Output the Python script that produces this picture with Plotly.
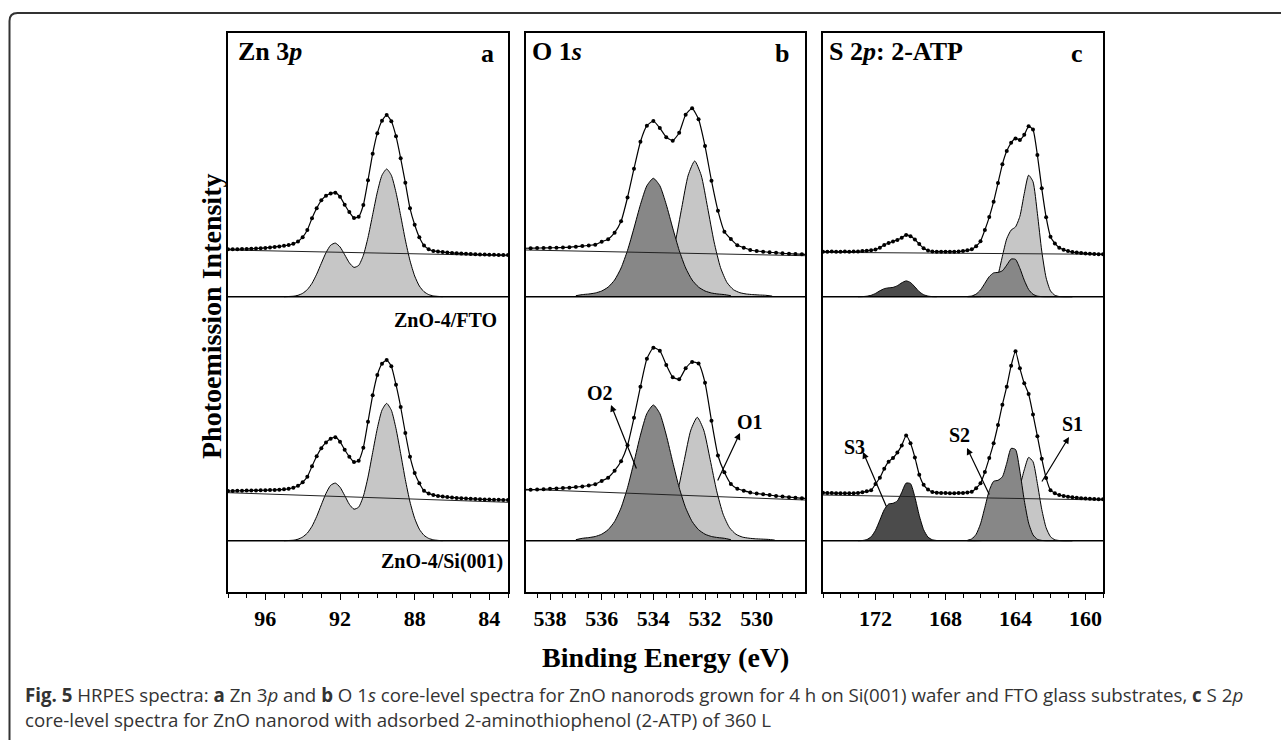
import plotly.graph_objects as go

W, H = 1281, 740

# ---------------- data (intensities relative to each spectrum's fit baseline) ----------------
# Panel a : Zn 3p
A_E = [98.0, 97.75, 97.5, 97.25, 97.0, 96.75, 96.5, 96.25, 96.0, 95.75, 95.5, 95.25, 95.0, 94.75, 94.5,
       94.25, 94.0, 93.75, 93.5, 93.25, 93.0, 92.75, 92.5, 92.25, 92.0, 91.75, 91.5, 91.25, 91.0, 90.75,
       90.5, 90.25, 90.0, 89.75, 89.5, 89.25, 89.0, 88.75, 88.5, 88.25, 88.0, 87.75, 87.5, 87.25, 87.0,
       86.75, 86.5, 86.25, 86.0, 85.75, 85.5, 85.25, 85.0, 84.75, 84.5, 84.25, 84.0, 83.75, 83.5, 83.25, 83.0]
A_FTO_EXP = [47.4, 47.5, 47.4, 47.6, 47.8, 47.9, 48.2, 48.4, 48.8, 49.2, 49.8, 50.3, 51.0, 51.7, 53.0,
             55.3, 59.5, 66.7, 78.4, 88.4, 96.4, 101.0, 103.2, 104.0, 100.0, 92.0, 84.6, 78.7, 80.0, 91.7,
             116.4, 143.0, 163.5, 176.0, 181.7, 175.5, 160.5, 138.4, 114.0, 88.4, 72.0, 59.5, 51.3, 47.5, 45.8,
             45.2, 44.6, 44.2, 43.8, 43.4, 43.2, 42.9, 42.6, 42.4, 42.3, 42.1, 42.0, 41.9, 41.8, 41.7, 41.7]
A_SI_EXP = [49.7, 49.8, 49.9, 50.0, 50.1, 50.2, 50.3, 50.4, 50.5, 50.6, 50.8, 51.0, 51.4, 51.9, 53.0,
            54.9, 58.5, 63.9, 74.4, 84.4, 92.5, 98.3, 102.0, 103.5, 99.0, 91.0, 84.0, 78.6, 80.0, 93.0,
            119.0, 145.4, 165.7, 177.0, 180.7, 174.5, 156.0, 133.7, 107.7, 84.0, 67.7, 57.5, 50.0, 47.3, 45.8,
            44.8, 44.1, 43.6, 43.2, 42.8, 42.5, 42.2, 41.9, 41.7, 41.5, 41.3, 41.1, 41.0, 40.9, 40.8, 40.7]
A_FIT_E = [95.0, 94.75, 94.5, 94.25, 94.0, 93.75, 93.5, 93.25, 93.0, 92.75, 92.5, 92.25, 92.0, 91.75, 91.5,
           91.25, 91.0, 90.75, 90.5, 90.25, 90.0, 89.75, 89.5, 89.25, 89.0, 88.75, 88.5, 88.25, 88.0, 87.75,
           87.5, 87.25, 87.0, 86.75, 86.5]
A_FTO_FIT = [0.0, 0.2, 0.5, 1.4, 3.4, 7.1, 13.4, 22.5, 33.4, 44.0, 51.5, 53.6, 49.8, 42.0, 33.9,
             29.3, 31.3, 41.3, 59.2, 82.0, 104.6, 121.5, 127.7, 121.4, 104.3, 81.0, 56.8, 36.0, 20.7, 10.7,
             5.0, 2.1, 0.8, 0.3, 0.0]
A_SI_FIT = [0.0, 0.2, 0.5, 1.5, 3.7, 7.6, 14.4, 24.2, 35.9, 47.3, 55.4, 57.6, 53.5, 45.2, 36.4,
            31.5, 33.6, 44.4, 63.6, 88.2, 112.4, 130.6, 137.3, 130.5, 112.1, 87.1, 61.1, 38.7, 22.3, 11.5,
            5.4, 2.3, 0.9, 0.3, 0.0]
A_FTO_BG = [46.7, 41.0]
A_SI_BG = [48.0, 38.4]

# Panel b : O 1s
B_E = [539.0, 538.75, 538.5, 538.25, 538.0, 537.75, 537.5, 537.25, 537.0, 536.75, 536.5, 536.25, 536.0,
       535.75, 535.5, 535.25, 535.0, 534.75, 534.5, 534.25, 534.0, 533.75, 533.5, 533.25, 533.0, 532.75,
       532.5, 532.25, 532.0, 531.75, 531.5, 531.25, 531.0, 530.75, 530.5, 530.25, 530.0, 529.75, 529.5,
       529.25, 529.0, 528.75, 528.5, 528.25, 528.0]
B_FTO_EXP = [48.4, 48.5, 48.6, 48.8, 48.9, 49.0, 49.2, 49.5, 50.0, 50.6, 51.3, 52.0, 55.0,
             57.5, 64.0, 75.4, 99.2, 128.0, 155.0, 171.0, 175.7, 168.7, 159.5, 156.0, 164.0, 182.0,
             188.4, 177.4, 150.6, 116.0, 86.0, 65.0, 57.7, 51.4, 49.0, 46.7, 45.7, 45.0, 44.4,
             44.0, 43.4, 43.0, 42.7, 42.5, 42.3]
B_SI_EXP = [50.7, 50.9, 51.1, 51.4, 51.9, 52.3, 52.6, 53.0, 53.6, 54.3, 55.2, 56.5, 59.8,
            63.0, 70.0, 79.5, 95.4, 123.0, 154.0, 182.0, 193.0, 190.0, 175.7, 163.5, 161.5, 172.4,
            178.7, 177.2, 158.0, 120.0, 85.2, 68.4, 56.8, 51.9, 50.0, 48.2, 47.2, 46.4, 45.6,
            44.8, 44.1, 43.5, 43.0, 42.5, 42.3]
B_O2_E = [537.0, 536.75, 536.5, 536.25, 536.0, 535.75, 535.5, 535.25, 535.0, 534.75, 534.5, 534.25, 534.0,
          533.75, 533.5, 533.25, 533.0, 532.75, 532.5, 532.25, 532.0, 531.75, 531.5, 531.25, 531.0]
B_FTO_O2 = [1.0, 2.1, 2.7, 3.7, 5.7, 9.6, 16.7, 28.7, 46.3, 68.6, 92.1, 111.0, 118.4,
            111.0, 92.1, 68.6, 46.3, 28.7, 16.7, 9.6, 5.7, 3.7, 2.7, 2.1, 1.0]
B_SI_O2 = [1.0, 2.4, 3.1, 4.2, 6.5, 11.0, 19.2, 32.9, 53.0, 78.6, 105.6, 127.2, 135.7,
           127.2, 105.6, 78.6, 53.0, 32.9, 19.2, 11.0, 6.5, 4.2, 3.1, 2.4, 1.0]
B_FTO_O1_E = [535.4, 535.15, 534.9, 534.65, 534.4, 534.15, 533.9, 533.65, 533.4, 533.15, 532.9, 532.65, 532.4,
              532.15, 531.9, 531.65, 531.4, 531.15, 530.9, 530.65, 530.4, 530.15, 529.9, 529.65, 529.4]
B_FTO_O1 = [0.6, 1.4, 1.7, 2.1, 2.7, 4.0, 7.0, 14.2, 29.1, 54.8, 89.1, 121.6, 135.7,
            121.6, 89.1, 54.8, 29.1, 14.2, 7.0, 4.0, 2.7, 2.1, 1.7, 1.4, 0.6]
B_SI_O1_E = [535.3, 535.05, 534.8, 534.55, 534.3, 534.05, 533.8, 533.55, 533.3, 533.05, 532.8, 532.55, 532.3,
             532.05, 531.8, 531.55, 531.3, 531.05, 530.8, 530.55, 530.3, 530.05, 529.8, 529.55, 529.3]
B_SI_O1 = [0.6, 1.3, 1.6, 1.9, 2.5, 3.6, 6.4, 12.9, 26.5, 49.9, 81.0, 110.6, 123.4,
           110.6, 81.0, 49.9, 26.5, 12.9, 6.4, 3.6, 2.5, 1.9, 1.6, 1.3, 0.6]
B_FTO_BG = [46.7, 41.0]
B_SI_BG = [51.4, 40.7]

# Panel c : S 2p (2-ATP)
C_E = [175.0, 174.75, 174.5, 174.25, 174.0, 173.75, 173.5, 173.25, 173.0, 172.75, 172.5, 172.25, 172.0,
       171.75, 171.5, 171.25, 171.0, 170.75, 170.5, 170.25, 170.0, 169.75, 169.5, 169.25, 169.0, 168.75,
       168.5, 168.25, 168.0, 167.75, 167.5, 167.25, 167.0, 166.75, 166.5, 166.25, 166.0, 165.75, 165.5,
       165.25, 165.0, 164.75, 164.5, 164.25, 164.0, 163.75, 163.5, 163.25, 163.0, 162.75, 162.5, 162.25,
       162.0, 161.75, 161.5, 161.25, 161.0, 160.75, 160.5, 160.25, 160.0, 159.75, 159.5, 159.25, 159.0]
C_FTO_EXP = [45.0, 45.0, 45.1, 44.9, 45.0, 45.2, 45.0, 45.1, 45.3, 45.6, 46.0, 46.4, 47.2,
             49.0, 51.8, 53.6, 55.3, 56.8, 59.0, 61.8, 60.4, 57.2, 52.6, 48.4, 46.2, 45.2,
             45.0, 45.0, 45.0, 45.0, 45.0, 45.2, 45.6, 46.4, 47.5, 50.5, 55.5, 66.7, 79.6,
             95.0, 113.6, 132.4, 145.6, 153.9, 158.3, 156.8, 161.9, 170.4, 167.1, 141.7, 108.4, 79.5,
             60.0, 53.3, 49.0, 47.0, 45.6, 44.6, 44.1, 43.7, 43.3, 43.0, 42.7, 42.5, 42.4]
C_SI_EXP = [48.0, 47.8, 47.6, 47.5, 47.5, 47.4, 47.4, 47.4, 47.8, 48.5, 49.5, 50.4, 56.7,
            62.9, 72.0, 79.0, 82.7, 88.1, 95.3, 105.2, 97.4, 83.3, 66.0, 55.9, 51.3, 48.7,
            48.0, 47.8, 47.6, 47.4, 47.4, 47.6, 47.8, 48.2, 48.9, 52.5, 57.4, 68.7, 82.6,
            97.4, 115.7, 136.0, 154.0, 175.0, 189.5, 172.4, 157.4, 146.7, 126.3, 104.5, 82.0, 62.6,
            50.5, 47.5, 45.7, 44.8, 44.0, 43.4, 42.9, 42.5, 42.1, 41.9, 41.6, 41.5, 41.4]
C_S12_E = [166.75, 166.5, 166.25, 166.0, 165.75, 165.5, 165.25, 165.0, 164.75, 164.5, 164.25, 164.0, 163.75,
           163.5, 163.25, 163.0, 162.75, 162.5, 162.25, 162.0, 161.75, 161.5, 161.25, 161.0, 160.75]
C_FTO_S1 = [0.0, 0.0, 0.0, 0.1, 0.6, 2.6, 8.6, 21.5, 40.4, 58.0, 66.6, 69.8, 80.4,
            103.1, 121.5, 115.0, 83.4, 45.6, 18.8, 5.8, 1.4, 0.2, 0.0, 0.0, 0.0]
C_FTO_S2 = [0.2, 0.7, 2.6, 6.7, 13.4, 20.1, 23.8, 24.3, 25.9, 31.6, 37.6, 37.3, 28.4,
            16.5, 7.2, 2.4, 0.6, 0.1, 0.0, 0.0, 0.0, 0.0, 0.0, 0.0, 0.0]
C_SI_S1 = [0.0, 0.0, 0.0, 0.1, 0.4, 1.8, 5.9, 14.7, 27.6, 39.7, 45.6, 47.8, 55.1,
           70.8, 83.3, 79.0, 57.2, 31.3, 12.9, 4.0, 0.9, 0.2, 0.0, 0.0, 0.0]
C_SI_S2 = [0.4, 1.8, 6.4, 16.8, 33.4, 50.2, 59.4, 60.4, 63.9, 77.5, 92.3, 91.2, 69.5,
           40.4, 17.6, 5.8, 1.4, 0.3, 0.0, 0.0, 0.0, 0.0, 0.0, 0.0, 0.0]
C_S3_E = [173.0, 172.75, 172.5, 172.25, 172.0, 171.75, 171.5, 171.25, 171.0, 170.75, 170.5, 170.25, 170.0,
          169.75, 169.5, 169.25, 169.0, 168.75, 168.5]
C_FTO_S3 = [0.0, 0.1, 0.5, 1.4, 3.3, 5.9, 8.0, 8.9, 9.3, 11.0, 13.9, 15.8, 14.2,
            9.8, 5.0, 2.0, 0.6, 0.1, 0.0]
C_SI_S3 = [0.0, 0.2, 1.1, 3.9, 10.4, 20.6, 31.0, 36.7, 37.4, 39.8, 48.4, 57.6, 57.0,
           43.6, 25.2, 11.0, 3.6, 0.9, 0.2]
C_FTO_BG = [44.4, 42.4]
C_SI_BG = [45.7, 40.7]

# ---------------- layout constants ----------------
def px(x):
    return x / W


def py(y):
    return 1 - y / H


TOP_PX, BOT_PX = 33, 592
Y_SPAN = BOT_PX - TOP_PX
OFF_FTO = BOT_PX - 296.7   # upper spectrum (ZnO-4/FTO)
OFF_SI = BOT_PX - 540.7    # lower spectrum (ZnO-4/Si(001))

LIGHT = "#c6c6c6"
MID = "#878787"
DARK = "#4b4b4b"
SERIF = "Liberation Serif"

PANELS = [
    dict(xa="x", ya="y", dom=(228, 508), rng=[98.0, 83.0], tick0=84, dtick=4, minor=1),
    dict(xa="x2", ya="y2", dom=(526, 805), rng=[538.93, 528.13], tick0=530, dtick=2, minor=0.5),
    dict(xa="x3", ya="y3", dom=(823, 1103), rng=[175.0, 159.0], tick0=160, dtick=4, minor=1),
]

fig = go.Figure()


def add_component(p, xs, vals, off, color):
    fig.add_trace(go.Scatter(x=xs, y=[off] * len(xs), xaxis=p["xa"], yaxis=p["ya"], mode="lines",
                             line=dict(width=0), hoverinfo="skip", showlegend=False))
    fig.add_trace(go.Scatter(x=xs, y=[v + off for v in vals], xaxis=p["xa"], yaxis=p["ya"], mode="lines",
                             fill="tonexty", fillcolor=color,
                             line=dict(color="black", width=1, shape="spline", smoothing=0.6),
                             hoverinfo="skip", showlegend=False))


def add_frame_lines(p, off, bg):
    # component baseline across the full panel
    fig.add_trace(go.Scatter(x=p["rng"], y=[off, off], xaxis=p["xa"], yaxis=p["ya"], mode="lines",
                             line=dict(color="black", width=1.5), hoverinfo="skip", showlegend=False))
    # linear background
    fig.add_trace(go.Scatter(x=p["rng"], y=[bg[0] + off, bg[1] + off], xaxis=p["xa"], yaxis=p["ya"],
                             mode="lines", line=dict(color="#222", width=1), hoverinfo="skip",
                             showlegend=False))


def add_exp(p, xs, vals, off):
    fig.add_trace(go.Scatter(x=xs, y=[v + off for v in vals], xaxis=p["xa"], yaxis=p["ya"],
                             mode="lines+markers",
                             line=dict(color="black", width=1.2, shape="spline", smoothing=0.5),
                             marker=dict(color="black", size=4), hoverinfo="skip", showlegend=False))


pa, pb, pc = PANELS

# panel a
for fit, exp, bg, off in [(A_FTO_FIT, A_FTO_EXP, A_FTO_BG, OFF_FTO), (A_SI_FIT, A_SI_EXP, A_SI_BG, OFF_SI)]:
    add_component(pa, A_FIT_E, fit, off, LIGHT)
    add_frame_lines(pa, off, bg)
    add_exp(pa, A_E, exp, off)

# panel b
for o1e, o1, o2, exp, bg, off in [(B_FTO_O1_E, B_FTO_O1, B_FTO_O2, B_FTO_EXP, B_FTO_BG, OFF_FTO),
                                   (B_SI_O1_E, B_SI_O1, B_SI_O2, B_SI_EXP, B_SI_BG, OFF_SI)]:
    add_component(pb, o1e, o1, off, LIGHT)
    add_component(pb, B_O2_E, o2, off, MID)
    add_frame_lines(pb, off, bg)
    add_exp(pb, B_E, exp, off)

# panel c
for s1, s2, s3, exp, bg, off in [(C_FTO_S1, C_FTO_S2, C_FTO_S3, C_FTO_EXP, C_FTO_BG, OFF_FTO),
                                  (C_SI_S1, C_SI_S2, C_SI_S3, C_SI_EXP, C_SI_BG, OFF_SI)]:
    add_component(pc, C_S3_E, s3, off, DARK)
    add_component(pc, C_S12_E, s1, off, LIGHT)
    add_component(pc, C_S12_E, s2, off, MID)
    add_frame_lines(pc, off, bg)
    add_exp(pc, C_E, exp, off)

# ---------------- axes ----------------
layout_axes = {}
for i, p in enumerate(PANELS):
    sfx = "" if i == 0 else str(i + 1)
    layout_axes["xaxis" + sfx] = dict(
        domain=[px(p["dom"][0]), px(p["dom"][1])], range=p["rng"], anchor=p["ya"],
        showline=True, mirror=True, linecolor="black", linewidth=1.5,
        ticks="outside", ticklen=6, tickwidth=1.3, tickcolor="black",
        tick0=p["tick0"], dtick=p["dtick"],
        minor=dict(dtick=p["minor"], ticks="outside", ticklen=4, tickwidth=1.2, tickcolor="black",
                   showgrid=False),
        showgrid=False, zeroline=False,
        tickfont=dict(family=SERIF, size=22, color="black", weight="bold"),
    )
    layout_axes["yaxis" + sfx] = dict(
        domain=[py(BOT_PX), py(TOP_PX)], range=[0, Y_SPAN], anchor=p["xa"],
        showline=True, mirror=True, linecolor="black", linewidth=1.5,
        ticks="", showticklabels=False, showgrid=False, zeroline=False,
    )

ann = []


def text(x, y, s, size, xanchor="center", family=SERIF, color="black", angle=0):
    ann.append(dict(x=px(x), y=py(y), xref="paper", yref="paper", text=s, showarrow=False,
                    xanchor=xanchor, yanchor="middle", textangle=angle,
                    font=dict(family=family, size=size, color=color)))


def arrow(head, tail):
    ann.append(dict(x=px(head[0]), y=py(head[1]), xref="paper", yref="paper",
                    ax=tail[0] - head[0], ay=tail[1] - head[1], axref="pixel", ayref="pixel",
                    text="", showarrow=True, arrowhead=2, arrowsize=1.1, arrowwidth=1.2,
                    arrowcolor="black"))


# panel headers
text(236, 52, "<b>Zn 3<i>p</i></b>", 26, "left")
text(496, 53, "<b>a</b>", 26, "right")
text(530, 52, "<b>O 1<i>s</i></b>", 26, "left")
text(791, 53, "<b>b</b>", 26, "right")
text(827, 52, "<b>S 2<i>p</i>: 2-ATP</b>", 26, "left")
text(1085, 53, "<b>c</b>", 26, "right")

# sample labels
text(499, 320, "<b>ZnO-4/FTO</b>", 20, "right")
text(505, 561, "<b>ZnO-4/Si(001)</b>", 20, "right")

# peak labels + arrows
text(600, 393, "<b>O2</b>", 20)
text(750, 422, "<b>O1</b>", 20)
text(854, 447, "<b>S3</b>", 20)
text(959, 435, "<b>S2</b>", 20)
text(1072, 424, "<b>S1</b>", 20)
arrow((611, 405), (637, 470))
arrow((740, 433), (717, 482))
arrow((863, 452), (887, 508))
arrow((967, 448), (990, 496))
arrow((1069, 437), (1041, 483))

# axis titles
text(211, 316, "<b>Photoemission Intensity</b>", 28, angle=-90)
text(665, 657, "<b>Binding Energy (eV)</b>", 28)

# caption
CAP1 = ("<b>Fig. 5</b> HRPES spectra: <b>a</b> Zn 3<i>p</i> and <b>b</b> O 1<i>s</i> core-level spectra for "
        "ZnO nanorods grown for 4 h on Si(001) wafer and FTO glass substrates, <b>c</b> S 2<i>p</i>")
CAP2 = "core-level spectra for ZnO nanorod with adsorbed 2-aminothiophenol (2-ATP) of 360 L"
text(23, 694, CAP1, 18.7, "left", family="Open Sans", color="#333")
text(23, 719, CAP2, 18.7, "left", family="Open Sans", color="#333")

# outer frame (left + top edge with rounded corner)
frame_path = (f"M {px(9.5)},{py(740)} L {px(9.5)},{py(21)} "
              f"Q {px(9.5)},{py(13)} {px(17.5)},{py(13)} L {px(1281)},{py(13)}")

fig.update_layout(
    width=W, height=H, margin=dict(l=0, r=0, t=0, b=0),
    paper_bgcolor="white", plot_bgcolor="white", showlegend=False,
    annotations=ann,
    shapes=[dict(type="path", path=frame_path, xref="paper", yref="paper",
                 line=dict(color="#333", width=2))],
    **layout_axes,
)

fig.write_html("out.html", config={"displayModeBar": False},
               post_script="document.body.style.margin='0';document.body.style.overflow='hidden';")
